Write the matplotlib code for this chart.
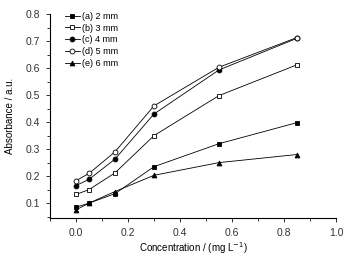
import matplotlib
matplotlib.use('Agg')
import matplotlib.pyplot as plt
from matplotlib.ticker import MultipleLocator

plt.rcParams['font.family'] = ['Liberation Sans', 'DejaVu Sans']

conc = [0.0, 0.05, 0.15, 0.30, 0.55, 0.85]
abs_a = [0.085, 0.100, 0.135, 0.235, 0.320, 0.398]
abs_b = [0.132, 0.150, 0.212, 0.350, 0.498, 0.612]
abs_c = [0.165, 0.188, 0.263, 0.430, 0.593, 0.710]
abs_d = [0.183, 0.210, 0.290, 0.460, 0.603, 0.713]
abs_e = [0.075, 0.100, 0.143, 0.203, 0.250, 0.280]
labels = ['(a) 2 mm', '(b) 3 mm', '(c) 4 mm', '(d) 5 mm', '(e) 6 mm']

fig = plt.figure(figsize=(3.46, 2.56), dpi=100)
ax = fig.add_axes([50/346, 38/256, 286/346, 204/256])

styles = [('s', 'black'), ('s', 'white'), ('o', 'black'), ('o', 'white'), ('^', 'black')]
for ys, lab, (m, fc) in zip([abs_a, abs_b, abs_c, abs_d, abs_e], labels, styles):
    ax.plot(conc, ys, color='black', lw=0.6, marker=m, markersize=3.5,
            markerfacecolor=fc, markeredgecolor='black', markeredgewidth=0.6, label=lab)

ax.set_xlim(-0.1, 1.0)
ax.set_ylim(0.045, 0.8)
ax.xaxis.set_minor_locator(MultipleLocator(0.1))
ax.yaxis.set_minor_locator(MultipleLocator(0.05))
ax.set_xticks([0.0, 0.2, 0.4, 0.6, 0.8, 1.0])
ax.set_yticks([0.1, 0.2, 0.3, 0.4, 0.5, 0.6, 0.7, 0.8])
ax.spines['top'].set_visible(False)
ax.spines['right'].set_visible(False)
ax.tick_params(which='both', direction='out', labelsize=7.5, width=0.7, colors='#333333')
ax.tick_params(which='major', length=3, pad=4)
ax.tick_params(which='minor', length=2)
ax.set_xlabel('Concentration / (mg L$^{-1}$)', fontsize=7, labelpad=2)
ax.set_ylabel('Absorbance / a.u.', fontsize=7, labelpad=8)

ax.legend(loc='upper left', bbox_to_anchor=(0.025, 1.05), frameon=False, fontsize=6.5,
          handlelength=1.6, labelspacing=0.3, handletextpad=0.3)

fig.savefig('out.png', dpi=100)
